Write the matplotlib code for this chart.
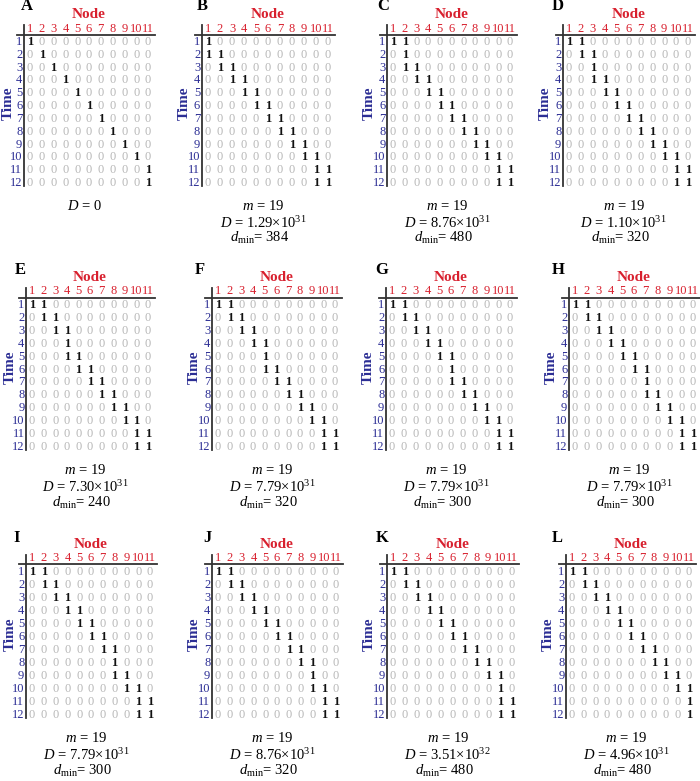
import matplotlib
matplotlib.use("Agg")
import matplotlib.pyplot as plt

plt.rcParams['font.family'] = ['Liberation Serif', 'DejaVu Serif']
plt.rcParams['mathtext.fontset'] = 'custom'
plt.rcParams['mathtext.rm'] = 'Liberation Serif'
plt.rcParams['mathtext.it'] = 'Liberation Serif:italic'
plt.rcParams['mathtext.bf'] = 'Liberation Serif:bold'

n_nodes = 11
n_times = 12

# positions of the 1s in each row (node numbers), rows 1..12
panel_A = [[1], [2], [3], [4], [5], [6], [7], [8], [9], [10], [11], [11]]
panel_B = [[1], [1, 2], [2, 3], [3, 4], [4, 5], [5, 6], [6, 7], [7, 8], [8, 9], [9, 10], [10, 11], [10, 11]]
panel_C = [[1, 2], [2], [2, 3], [3, 4], [4, 5], [5, 6], [6, 7], [7, 8], [8, 9], [9, 10], [10, 11], [10, 11]]
panel_D = [[1, 2], [2, 3], [3], [3, 4], [4, 5], [5, 6], [6, 7], [7, 8], [8, 9], [9, 10], [10, 11], [10, 11]]
panel_E = [[1, 2], [2, 3], [3, 4], [4], [4, 5], [5, 6], [6, 7], [7, 8], [8, 9], [9, 10], [10, 11], [10, 11]]
panel_F = [[1, 2], [2, 3], [3, 4], [4, 5], [5], [5, 6], [6, 7], [7, 8], [8, 9], [9, 10], [10, 11], [10, 11]]
panel_G = [[1, 2], [2, 3], [3, 4], [4, 5], [5, 6], [6], [6, 7], [7, 8], [8, 9], [9, 10], [10, 11], [10, 11]]
panel_H = [[1, 2], [2, 3], [3, 4], [4, 5], [5, 6], [6, 7], [7], [7, 8], [8, 9], [9, 10], [10, 11], [10, 11]]
panel_I = [[1, 2], [2, 3], [3, 4], [4, 5], [5, 6], [6, 7], [7, 8], [8], [8, 9], [9, 10], [10, 11], [10, 11]]
panel_J = [[1, 2], [2, 3], [3, 4], [4, 5], [5, 6], [6, 7], [7, 8], [8, 9], [9], [9, 10], [10, 11], [10, 11]]
panel_K = [[1, 2], [2, 3], [3, 4], [4, 5], [5, 6], [6, 7], [7, 8], [8, 9], [9, 10], [10], [10, 11], [10, 11]]
panel_L = [[1, 2], [2, 3], [3, 4], [4, 5], [5, 6], [6, 7], [7, 8], [8, 9], [9, 10], [10, 11], [11], [11]]

panel_names = ['A', 'B', 'C', 'D', 'E', 'F', 'G', 'H', 'I', 'J', 'K', 'L']
panel_ones = [panel_A, panel_B, panel_C, panel_D, panel_E, panel_F,
              panel_G, panel_H, panel_I, panel_J, panel_K, panel_L]
m_values = [None, 19, 19, 19, 19, 19, 19, 19, 19, 19, 19, 19]
D_mant = [None, '1.29', '8.76', '1.10', '7.30', '7.79', '7.79', '7.79', '7.79', '8.76', '3.51', '4.96']
D_exp = [None, 31, 31, 31, 31, 31, 31, 31, 31, 31, 32, 31]
dmin_values = [None, 384, 480, 320, 240, 320, 300, 300, 300, 320, 480, 480]

# layout in pixels: (x of node 1, x of node 11)
col_px = [(30, 148), (208, 328), (393, 510), (569, 688),
          (32, 148), (218, 335), (392, 510), (575, 693),
          (32, 150), (218, 336), (393, 512), (572, 689)]
row_px = [(42, 183), (305, 447), (572, 715)]
label_px = [(27, 6), (202, 6), (383, 6), (558, 6),
            (20, 270), (200, 270), (382, 270), (558, 270),
            (17, 538), (207, 538), (382, 538), (557, 538)]

W, H = 700, 781
RED = '#d8202e'
BLUE = '#2b2d94'
GRAY = '#b8b8b8'

fig = plt.figure(figsize=(W / 100, H / 100), dpi=100)

for p in range(12):
    x1, x11 = col_px[p]
    y1, y12 = row_px[p // 4]
    dx = (x11 - x1) / (n_nodes - 1)
    dy = (y12 - y1) / (n_times - 1)
    left = (x1 - 0.5 * dx) / W
    top = (y1 - 0.5 * dy) / H
    ax = fig.add_axes([left, 1 - top - n_times * dy / H, n_nodes * dx / W, n_times * dy / H])
    ax.set_xlim(0.5, n_nodes + 0.5)
    ax.set_ylim(n_times + 0.5, 0.5)
    ax.axis('off')

    ones = panel_ones[p]
    for r in range(1, n_times + 1):
        for c in range(1, n_nodes + 1):
            if c in ones[r - 1]:
                ax.text(c, r, '1', ha='center', va='center', fontsize=9,
                        fontweight='bold', color='#111111')
            else:
                ax.text(c, r, '0', ha='center', va='center', fontsize=9, color=GRAY)
        ax.text(0.35, r, str(r), ha='right', va='center', fontsize=9,
                color=BLUE, clip_on=False)
    for c in range(1, n_nodes + 1):
        ax.text(c, -0.05, str(c), ha='center', va='center', fontsize=9,
                color=RED, clip_on=False)
    ax.plot([-0.1, n_nodes + 0.6], [0.42, 0.42], color='#333333', lw=1.3, clip_on=False)
    ax.plot([0.5, 0.5], [-0.3, n_times + 0.2], color='#333333', lw=1.3, clip_on=False)
    ax.text(6, -1.15, 'Node', ha='center', va='center', fontsize=11,
            fontweight='bold', color=RED, clip_on=False)
    time_x = -0.85 if p % 4 == 0 else -1.0
    ax.text(time_x, 5.8, 'Time', ha='center', va='center', fontsize=11,
            fontweight='bold', color=BLUE, rotation=90, clip_on=False)

    cx = 5.6
    if m_values[p] is None:
        ax.text(cx, 13.8, '$D$ = 0', ha='center', va='center', fontsize=10.5, clip_on=False)
    else:
        ax.text(cx, 13.8, '$m$ = %d' % m_values[p], ha='center', va='center',
                fontsize=10.5, clip_on=False)
        ax.text(cx, 15.1, '$D$ = %s\u00d710$^{%d}$' % (D_mant[p], D_exp[p]),
                ha='center', va='center', fontsize=10.5, clip_on=False)
        ax.text(cx - 0.3, 16.3, '$d_{\\rm min}$= %d' % dmin_values[p],
                ha='center', va='center', fontsize=10.5, clip_on=False)

    lx, ly = label_px[p]
    fig.text(lx / W, 1 - ly / H, panel_names[p], ha='center', va='center',
             fontsize=12, fontweight='bold')

fig.savefig('out.png', dpi=100)
